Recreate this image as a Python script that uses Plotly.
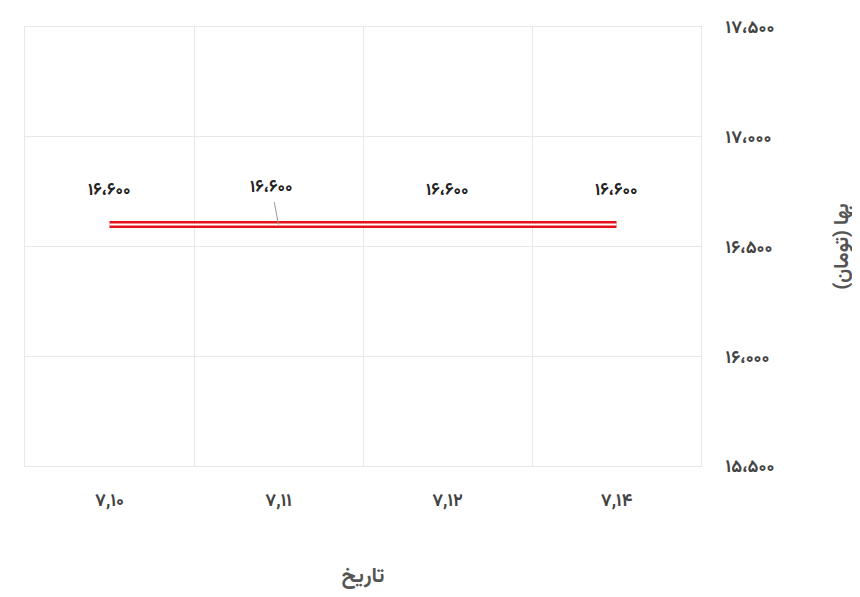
import plotly.graph_objects as go

categories = ["۷,۱۰", "۷,۱۱", "۷,۱۲", "۷,۱۴"]
prices = [16600, 16600, 16600, 16600]
price_labels = ["۱۶،۶۰۰", "۱۶،۶۰۰", "۱۶،۶۰۰", "۱۶،۶۰۰"]
y_tick_vals = [15500, 16000, 16500, 17000, 17500]
y_tick_text = ["۱۵،۵۰۰", "۱۶،۰۰۰", "۱۶،۵۰۰", "۱۷،۰۰۰", "۱۷،۵۰۰"]

FONT = "Vazirmatn, DejaVu Sans, sans-serif"

fig = go.Figure()
fig.add_trace(go.Scatter(x=categories, y=prices, mode="lines",
                         line=dict(color="#e3121b", width=7), hoverinfo="skip", showlegend=False))
fig.add_trace(go.Scatter(x=categories, y=prices, mode="lines",
                         line=dict(color="white", width=2), hoverinfo="skip", showlegend=False))

for i, (c, v, t) in enumerate(zip(categories, prices, price_labels)):
    if i == 1:
        fig.add_annotation(x=c, y=v, text=t, showarrow=True, arrowhead=0, arrowwidth=1,
                           arrowcolor="#999", ax=-7, ay=-37,
                           font=dict(family=FONT, size=17, color="#222", weight="bold"))
    else:
        fig.add_annotation(x=c, y=v, text=t, showarrow=False, yshift=34,
                           font=dict(family=FONT, size=17, color="#222", weight="bold"))

fig.update_layout(
    width=860, height=597,
    margin=dict(l=17, r=167, t=19, b=139, autoexpand=False),
    paper_bgcolor="white", plot_bgcolor="white",
    font=dict(family=FONT, color="#555"),
    xaxis=dict(type="category", range=[-0.5, 3.5], tickson="boundaries",
               showgrid=True, gridcolor="#e8e8e8", gridwidth=1,
               showline=True, linecolor="#e8e8e8", mirror=True,
               ticks="", ticklabelstandoff=17,
               tickfont=dict(family=FONT, size=18, color="#444", weight="bold"),
               title=dict(text="تاریخ", font=dict(family=FONT, size=21, color="#555", weight="bold"), standoff=52)),
    yaxis=dict(side="right", range=[15500, 17500], tickvals=y_tick_vals, ticktext=y_tick_text,
               showgrid=True, gridcolor="#e8e8e8", gridwidth=1, zeroline=False,
               showline=True, linecolor="#e8e8e8", mirror=True,
               ticks="", ticklabelstandoff=20,
               tickfont=dict(family=FONT, size=18, color="#444", weight="bold"),
               title=dict(text="بها (تومان)", font=dict(family=FONT, size=20, color="#555", weight="bold"), standoff=60)),
)

fig.write_html("out.html")
